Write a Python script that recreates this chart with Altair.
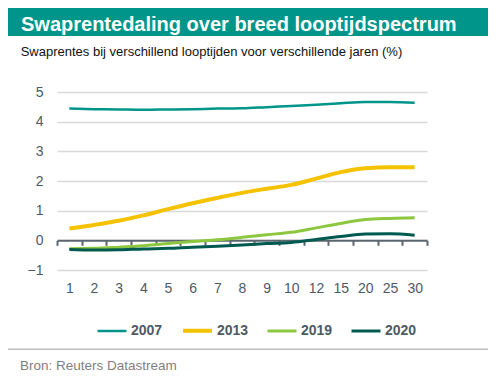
import altair as alt
import pandas as pd

cats = ["1", "2", "3", "4", "5", "6", "7", "8", "9", "10", "12", "15", "20", "25", "30"]
y2007 = [4.44, 4.42, 4.41, 4.40, 4.41, 4.42, 4.44, 4.45, 4.49, 4.53, 4.57, 4.62, 4.66, 4.66, 4.64]
y2013 = [0.40, 0.52, 0.66, 0.84, 1.05, 1.25, 1.43, 1.60, 1.74, 1.87, 2.08, 2.30, 2.43, 2.46, 2.46]
y2019 = [-0.28, -0.27, -0.23, -0.18, -0.11, -0.04, 0.02, 0.10, 0.19, 0.27, 0.42, 0.57, 0.70, 0.74, 0.76]
y2020 = [-0.31, -0.33, -0.32, -0.29, -0.27, -0.23, -0.20, -0.16, -0.11, -0.07, 0.03, 0.13, 0.21, 0.22, 0.17]
series = ["2007", "2013", "2019", "2020"]
colors = ["#00958A", "#F5C200", "#8DC63F", "#005A50"]
widths = [2.5, 4, 3, 3]

TITLE = "Swaprentedaling over breed looptijdspectrum"
SUBTITLE = "Swaprentes bij verschillend looptijden voor verschillende jaren (%)"
SOURCE = "Bron: Reuters Datastream"

rows = []
for name, vals in zip(series, [y2007, y2013, y2019, y2020]):
    for c, v in zip(cats, vals):
        rows.append({"looptijd": c, "jaar": name, "rente": v})
df = pd.DataFrame(rows)

FONT = "Liberation Sans"
LABEL = "#4D5A66"

lines = alt.Chart(df).mark_line(interpolate="monotone").encode(
    x=alt.X("looptijd:N", sort=cats,
            scale=alt.Scale(type="band", paddingInner=0, paddingOuter=0),
            axis=alt.Axis(title=None, labelAngle=0, offset=-29.67, tickBand="extent",
                          domainColor="#5B6670", domainWidth=2, tickColor="#5B6670",
                          tickWidth=2, tickSize=5, labelPadding=36, labelFontSize=14,
                          labelColor=LABEL, labelFont=FONT, grid=False)),
    y=alt.Y("rente:Q", scale=alt.Scale(domain=[-1, 5], nice=False, zero=False),
            axis=alt.Axis(title=None, values=[-1, 0, 1, 2, 3, 4, 5], ticks=False, domain=False,
                          grid=True, gridColor="#D9D9D9", gridWidth=1.5, labelPadding=14,
                          labelFontSize=14, labelColor=LABEL, labelFont=FONT)),
    color=alt.Color("jaar:N", scale=alt.Scale(domain=series, range=colors),
                    legend=alt.Legend(title=None, orient="none", direction="horizontal",
                                      legendX=39, legendY=222, symbolType="stroke",
                                      symbolSize=841, symbolStrokeWidth=3,
                                      labelFontSize=14, labelFontWeight="bold",
                                      labelColor=LABEL, labelFont=FONT, labelOffset=3,
                                      columnPadding=12)),
    strokeWidth=alt.StrokeWidth("jaar:N", scale=alt.Scale(type="ordinal", domain=series, range=widths),
                                legend=None),
)

deco = pd.DataFrame({"k": [0]})
banner = alt.Chart(deco).mark_rect(color="#00958A").encode(
    x=alt.value(-49), x2=alt.value(431), y=alt.value(-84), y2=alt.value(-56))
title = alt.Chart(deco).mark_text(align="left", baseline="alphabetic", font=FONT, fontSize=20,
                                  fontWeight="bold", color="white").encode(
    x=alt.value(-36), y=alt.value(-61.3), text=alt.value(TITLE))
subtitle = alt.Chart(deco).mark_text(align="left", baseline="middle", font=FONT, fontSize=13,
                                     color="#111111").encode(
    x=alt.value(-36.3), y=alt.value(-40), text=alt.value(SUBTITLE))
sep = alt.Chart(deco).mark_rule(color="#BFBFBF", strokeWidth=1.5).encode(
    x=alt.value(-49), x2=alt.value(431), y=alt.value(257.3))
source = alt.Chart(deco).mark_text(align="left", baseline="middle", font=FONT, fontSize=13.5,
                                   color="#7F7F7F").encode(
    x=alt.value(-37), y=alt.value(274), text=alt.value(SOURCE))

chart = alt.layer(banner, title, subtitle, sep, source, lines).properties(
    width=370, height=178,
    autosize=alt.AutoSizeParams(type="none"),
    padding={"left": 49, "top": 84, "right": 62, "bottom": 106},
).configure_view(stroke=None)

chart.save("out.html", embed_options={"renderer": "svg", "actions": False})
